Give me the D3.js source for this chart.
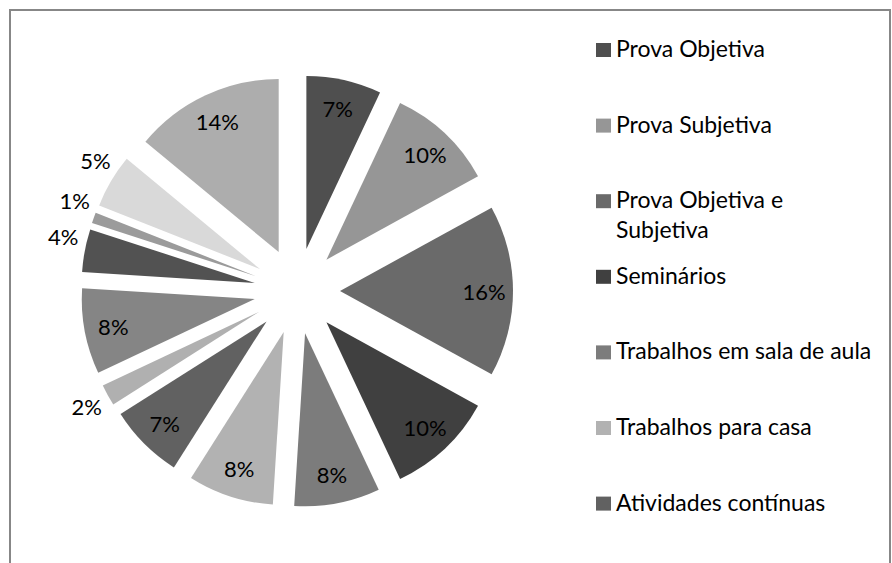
<!DOCTYPE html>
<html>
<head>
<meta charset="utf-8">
<script src="https://cdn.jsdelivr.net/npm/d3@7"></script>
<style>
  html, body { margin: 0; padding: 0; background: #fff; }
  svg { display: block; }
  text { font-family: Lato, "Noto Sans", sans-serif; fill: #000; }
</style>
</head>
<body>
<svg id="chart" width="892" height="563"></svg>
<script>
// ---- data ----
const legendLabels = [
  "Prova Objetiva",
  "Prova Subjetiva",
  "Prova Objetiva e Subjetiva",
  "Seminários",
  "Trabalhos em sala de aula",
  "Trabalhos para casa",
  "Atividades contínuas"
];
const values = [7, 10, 16, 10, 8, 8, 7, 2, 8, 4, 1, 5, 14];
const sliceColors = ["#4f4f4f", "#969696", "#6a6a6a", "#404040", "#7c7c7c", "#b2b2b2",
                     "#616161", "#b0b0b0", "#858585", "#525252", "#9b9b9b", "#d9d9d9", "#adadad"];
const outsideLabel = [false, false, false, false, false, false, false, true, false, true, true, true, false];

// ---- layout ----
const svg = d3.select("#chart");
const cx = 297, cy = 291, R = 173, explode = 43, labelR = 144, outR = 197;
const outShift = 2.8 * Math.PI / 180;

svg.append("rect")
  .attr("x", 10).attr("y", 10).attr("width", 880).attr("height", 600)
  .attr("fill", "none").attr("stroke", "#878787").attr("stroke-width", 2);

const pie = d3.pie().sort(null).value(d => d)(values);
const arc = d3.arc().innerRadius(0).outerRadius(R);

const g = svg.append("g").attr("transform", `translate(${cx},${cy})`);

const slices = g.selectAll("g.slice").data(pie).enter().append("g")
  .attr("class", "slice")
  .attr("transform", d => {
    const m = (d.startAngle + d.endAngle) / 2;
    return `translate(${Math.sin(m) * explode},${-Math.cos(m) * explode})`;
  });

slices.append("path")
  .attr("d", arc)
  .attr("fill", (d, i) => sliceColors[i]);

function labelAngle(d, i) {
  const m = (d.startAngle + d.endAngle) / 2;
  return outsideLabel[i] && m > 1.5 * Math.PI ? m + outShift : m;
}

slices.append("text")
  .attr("x", (d, i) => Math.sin(labelAngle(d, i)) * (outsideLabel[i] ? outR : labelR))
  .attr("y", (d, i) => -Math.cos(labelAngle(d, i)) * (outsideLabel[i] ? outR : labelR))
  .attr("text-anchor", "middle")
  .attr("dominant-baseline", "central")
  .attr("font-size", 22)
  .text(d => d.data + "%");

// ---- legend ----
const legend = svg.append("g");
const wrapped = {"Prova Objetiva e Subjetiva": ["Prova Objetiva e", "Subjetiva"]};
legendLabels.forEach((name, i) => {
  const by = 57 + i * 75.6;
  legend.append("rect")
    .attr("x", 596).attr("y", by - 14).attr("width", 15).attr("height", 14)
    .attr("fill", sliceColors[i]);
  const lines = wrapped[name] || [name];
  const t = legend.append("text").attr("x", 616).attr("y", by).attr("font-size", 23);
  lines.forEach((ln, j) => {
    t.append("tspan").attr("x", 616).attr("dy", j === 0 ? 0 : 30).text(ln);
  });
});
</script>
</body>
</html>
